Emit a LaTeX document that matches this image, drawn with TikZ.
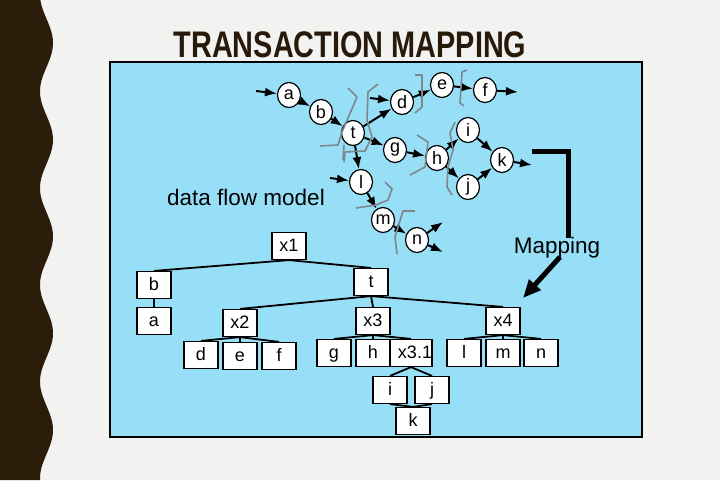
\documentclass[tikz,border=0pt]{standalone}
\usepackage{fontspec}
\setmainfont{Liberation Sans}
\usetikzlibrary{shapes.geometric,arrows.meta}
\definecolor{pagebg}{RGB}{242,242,240}
\definecolor{wavec}{RGB}{43,29,10}
\definecolor{panelc}{RGB}{151,223,247}
\definecolor{brk}{RGB}{125,135,140}
\definecolor{titlec}{RGB}{40,26,10}
\begin{document}
\begin{tikzpicture}[x=1pt,y=-1pt,
  flow/.style={ellipse,draw,fill=white,line width=1.2pt,minimum width=23pt,minimum height=25pt,inner sep=0pt,font=\fontsize{18}{18}\selectfont},
  tbox/.style={rectangle,draw,fill=white,line width=1.2pt,minimum width=34pt,minimum height=27pt,inner sep=0pt,text depth=0pt,text height=11pt,font=\fontsize{18}{18}\selectfont},
  farrow/.style={line width=2pt,-{Latex[length=12pt,width=9pt]}},
  tline/.style={line width=1.8pt},
  bracket/.style={draw=brk,line width=1.6pt,line join=round},
  biglabel/.style={font=\fontsize{22.5}{22.5}\selectfont}]
\useasboundingbox (0,0) rectangle (720,480);
\fill[pagebg] (0,0) rectangle (720,480);
% wavy left border
\fill[wavec] (0,0) -- plot[domain=0:480,samples=240] ({46.5+6.5*cos((\x-43)*3.7209)},\x) -- (0,480) -- cycle;
% title
\node[anchor=base,text=titlec,font=\bfseries\fontsize{37}{37}\selectfont] (title) at (350,57) {\scalebox{0.78}[1]{TRANSACTION MAPPING}};
% panel
\draw[fill=panelc,line width=2pt] (110,62) rectangle (642,437);

% ---------- data flow model ----------
\node[flow] (a) at (289,95) {a};
\node[flow] (b) at (321,112) {b};
\node[flow] (t) at (353,133) {t};
\node[flow] (d) at (402,102) {d};
\node[flow] (e) at (442,85) {e};
\node[flow] (f) at (485,90) {f};
\node[flow] (g) at (395,150) {g};
\node[flow] (h) at (437,158) {h};
\node[flow] (i) at (468,130) {i};
\node[flow] (k) at (502,160) {k};
\node[flow] (j) at (468,187) {j};
\node[flow] (l) at (361,182) {l};
\node[flow] (m) at (383,220) {m};
\node[flow] (n) at (417,240) {n};

\coordinate (ina) at (256,91);
\coordinate (ind) at (370,98);
\coordinate (outf) at (518,92);
\coordinate (outk) at (532,165);
\coordinate (inl) at (330,178);
\coordinate (outn1) at (443,222);
\coordinate (outn2) at (443,252);

\draw[farrow] (ina) -- (a);
\draw[farrow] (a) -- (b);
\draw[farrow] (b) -- (t);
\draw[farrow] (t) -- (d);
\draw[farrow] (ind) -- (d);
\draw[farrow] (d) -- (e);
\draw[farrow] (e) -- (f);
\draw[farrow] (f) -- (outf);
\draw[farrow] (t) -- (g);
\draw[farrow] (g) -- (h);
\draw[farrow] (h) -- (i);
\draw[farrow] (h) -- (j);
\draw[farrow] (i) -- (k);
\draw[farrow] (j) -- (k);
\draw[farrow] (k) -- (outk);
\draw[farrow] (t) -- (l);
\draw[farrow] (inl) -- (l);
\draw[farrow] (l) -- (m);
\draw[farrow] (m) -- (n);
\draw[farrow] (n) -- (outn1);
\draw[farrow] (n) -- (outn2);

% grey transaction brackets
\draw[bracket] (348,88) -- (357,97) -- (342,132) -- (338,145) -- (320,146);
\draw[bracket] (378,84) -- (368,92) -- (367,120) -- (372,137) -- (365,151) -- (345,152) -- (344,162);
\draw[bracket] (343,160) -- (344,145);
\draw[bracket] (415,75) -- (422,75) -- (422,107) -- (415,113);
\draw[bracket] (467,70) -- (462,72) -- (460,103) -- (464,106);
\draw[bracket] (417,135) -- (428,142) -- (425,167) -- (410,175);
\draw[bracket] (455,122) -- (450,133) -- (453,150) -- (448,167) -- (447,187) -- (452,195);
\draw[bracket] (385,182) -- (392,189) -- (388,200) -- (376,205) -- (356,208);
\draw[bracket] (415,211) -- (403,211) -- (395,237) -- (397,254);

\node[biglabel] (dfm) at (246,197) {data flow model};

% ---------- mapping ----------
\coordinate (mapa) at (532,151);
\coordinate (mapb) at (568,151);
\coordinate (mapc) at (568,238);
\draw[line width=5pt] (mapa) -- (mapb) -- (mapc);
\node[biglabel] (maplbl) at (557,248) {Mapping};
\coordinate (arrs) at (560,257);
\coordinate (arre) at (523,298);
\draw[line width=5pt,-{Triangle[length=18pt,width=15pt]}] (arrs) -- (arre);

% ---------- structure chart ----------
\node[tbox] (x1) at (289,246) {x1};
\node[tbox] (tb) at (154,285) {b};
\node[tbox] (ta) at (154,321) {a};
\node[tbox] (tt) at (371,282) {t};
\node[tbox] (x2) at (240,323) {x2};
\node[tbox] (x3) at (373,321) {x3};
\node[tbox] (x4) at (503,321) {x4};
\node[tbox] (td) at (201,355) {d};
\node[tbox] (te) at (240,356) {e};
\node[tbox] (tf) at (279,356) {f};
\node[tbox] (tg) at (334,353) {g};
\node[tbox] (th) at (373,353) {h};
\node[tbox] (x31) at (411,353) {\hspace*{8pt}x3.1};
\node[tbox] (tl) at (464,353) {l};
\node[tbox] (tm) at (503,353) {m};
\node[tbox] (tn) at (541,353) {n};
\node[tbox] (ti) at (390,390) {i};
\node[tbox] (tj) at (432,390) {j};
\node[tbox] (tk) at (413,421) {k};

\draw[tline] (x1.south) -- (tb.north);
\draw[tline] (x1.south) -- (tt.north);
\draw[tline] (tb.south) -- (ta.north);
\draw[tline] (tt.south) -- (x2.north);
\draw[tline] (tt.south) -- (x3.north);
\draw[tline] (tt.south) -- (x4.north);
\draw[tline] (x2.south) -- (td.north);
\draw[tline] (x2.south) -- (te.north);
\draw[tline] (x2.south) -- (tf.north);
\draw[tline] (x3.south) -- (tg.north);
\draw[tline] (x3.south) -- (th.north);
\draw[tline] (x3.south) -- (x31.north);
\draw[tline] (x4.south) -- (tl.north);
\draw[tline] (x4.south) -- (tm.north);
\draw[tline] (x4.south) -- (tn.north);
\draw[tline] (x31.south) -- (ti.north);
\draw[tline] (x31.south) -- (tj.north);
\draw[tline] (ti.south) -- (tk.north);
\draw[tline] (tj.south) -- (tk.north);
\end{tikzpicture}
\end{document}
